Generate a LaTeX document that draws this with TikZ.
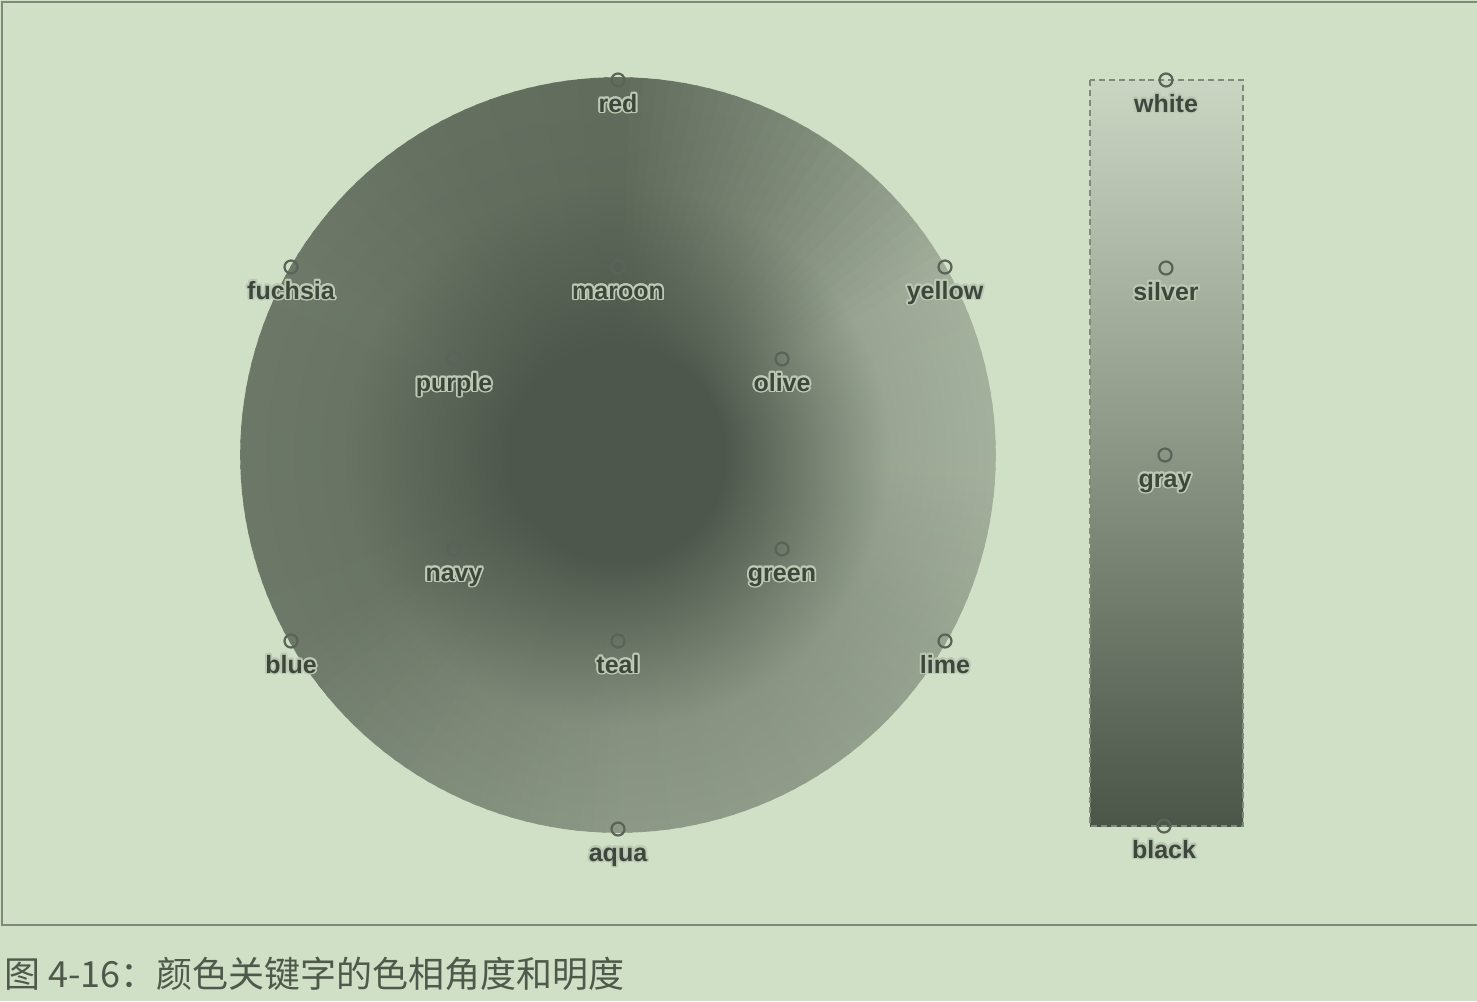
\documentclass[tikz,border=0pt]{standalone}
\usepackage{fontspec}
\setmainfont{Liberation Sans}
\newfontfamily\cjk{Noto Sans CJK SC}
\usepackage{contour}
\usetikzlibrary{fadings}
\contourlength{0.9pt}
\definecolor{paper}{HTML}{CFE0C6}
\definecolor{wheeldark}{HTML}{454F42}
\definecolor{wheellite}{HTML}{C8D6BF}
\definecolor{hub}{HTML}{4E574B}
\definecolor{ink}{HTML}{3E473B}
\definecolor{halo}{HTML}{BCC9B4}
\definecolor{rule}{HTML}{7F8A7A}
\definecolor{captionink}{HTML}{4F594B}
\definecolor{bartop}{HTML}{CAD6C2}
\definecolor{barmid}{HTML}{7C8876}
\definecolor{barbot}{HTML}{4B5548}
\pgfdeclareradialshading{hubshading}{\pgfpoint{0bp}{0bp}}{color(0bp)=(white); color(7bp)=(white); color(13bp)=(black!48); color(18bp)=(black!88); color(25bp)=(black); color(50bp)=(black)}
\pgfdeclarefading{hubfade}{\pgfuseshading{hubshading}}
\tikzset{
  marker/.style={draw=ink!85, line width=1.1bp, circle, inner sep=0pt, minimum size=6.5bp},
  keyword/.style={anchor=base, text=ink, inner sep=0pt, font=\bfseries\fontsize{12.5bp}{14bp}\selectfont},
}
\begin{document}
\begin{tikzpicture}[x=0.5bp, y=-0.5bp]
    \useasboundingbox[fill=paper] (0,0) rectangle (1477,1001);
    \draw[rule, line width=1bp] (1477,2) -- (2,2) -- (2,925) -- (1477,925);
    \coordinate (C) at (618,455);
    % hue wheel, one wedge every 2 degrees
    \foreach \a/\pa/\pb in {0/22/45, 30/45/72, 60/72/73, 90/73/63, 120/63/58, 150/58/55,
                            180/55/45, 210/45/31, 240/31/30, 270/30/31, 300/31/25, 330/25/22} {
        \foreach \k in {0,...,14} {
            \pgfmathsetmacro\p{\pa+(\pb-\pa)*\k/15}
            \pgfmathsetmacro\s{\a+2*\k-90}
            \colorlet{wedge}{wheellite!\p!wheeldark}
            \filldraw[wedge, line width=0.8] (C) -- ++(\s:377) arc[start angle=\s, delta angle=2.4, radius=377] -- cycle;
        }
    }
    \fill[hub, path fading=hubfade] (C) circle (377);
    % lightness bar
    \shade[top color=bartop, middle color=barmid, bottom color=barbot] (1090,80) rectangle (1243,826);
    \draw[rule, densely dashed, line width=0.6bp] (1090,80) rectangle (1243,826);
    \foreach \kw/\x/\y in {red/618/80, yellow/945/267, lime/945/641, aqua/618/829, blue/291/641, fuchsia/291/267,
                           maroon/618/267, olive/782/359, green/782/549, teal/618/641, navy/454/549, purple/454/359,
                           white/1166/80, silver/1166/268, gray/1165/455, black/1164/826} {
        \node[marker] (\kw-dot) at (\x,\y) {};
        \node[keyword] (\kw) at (\x,\y+32) {\contour{halo}{\kw}};
    }
    \node[anchor=base west, inner sep=0pt, text=captionink, font=\cjk\fontsize{18bp}{20bp}\selectfont] (caption) at (4,987) {图 4-16：颜色关键字的色相角度和明度};
\end{tikzpicture}
\end{document}
